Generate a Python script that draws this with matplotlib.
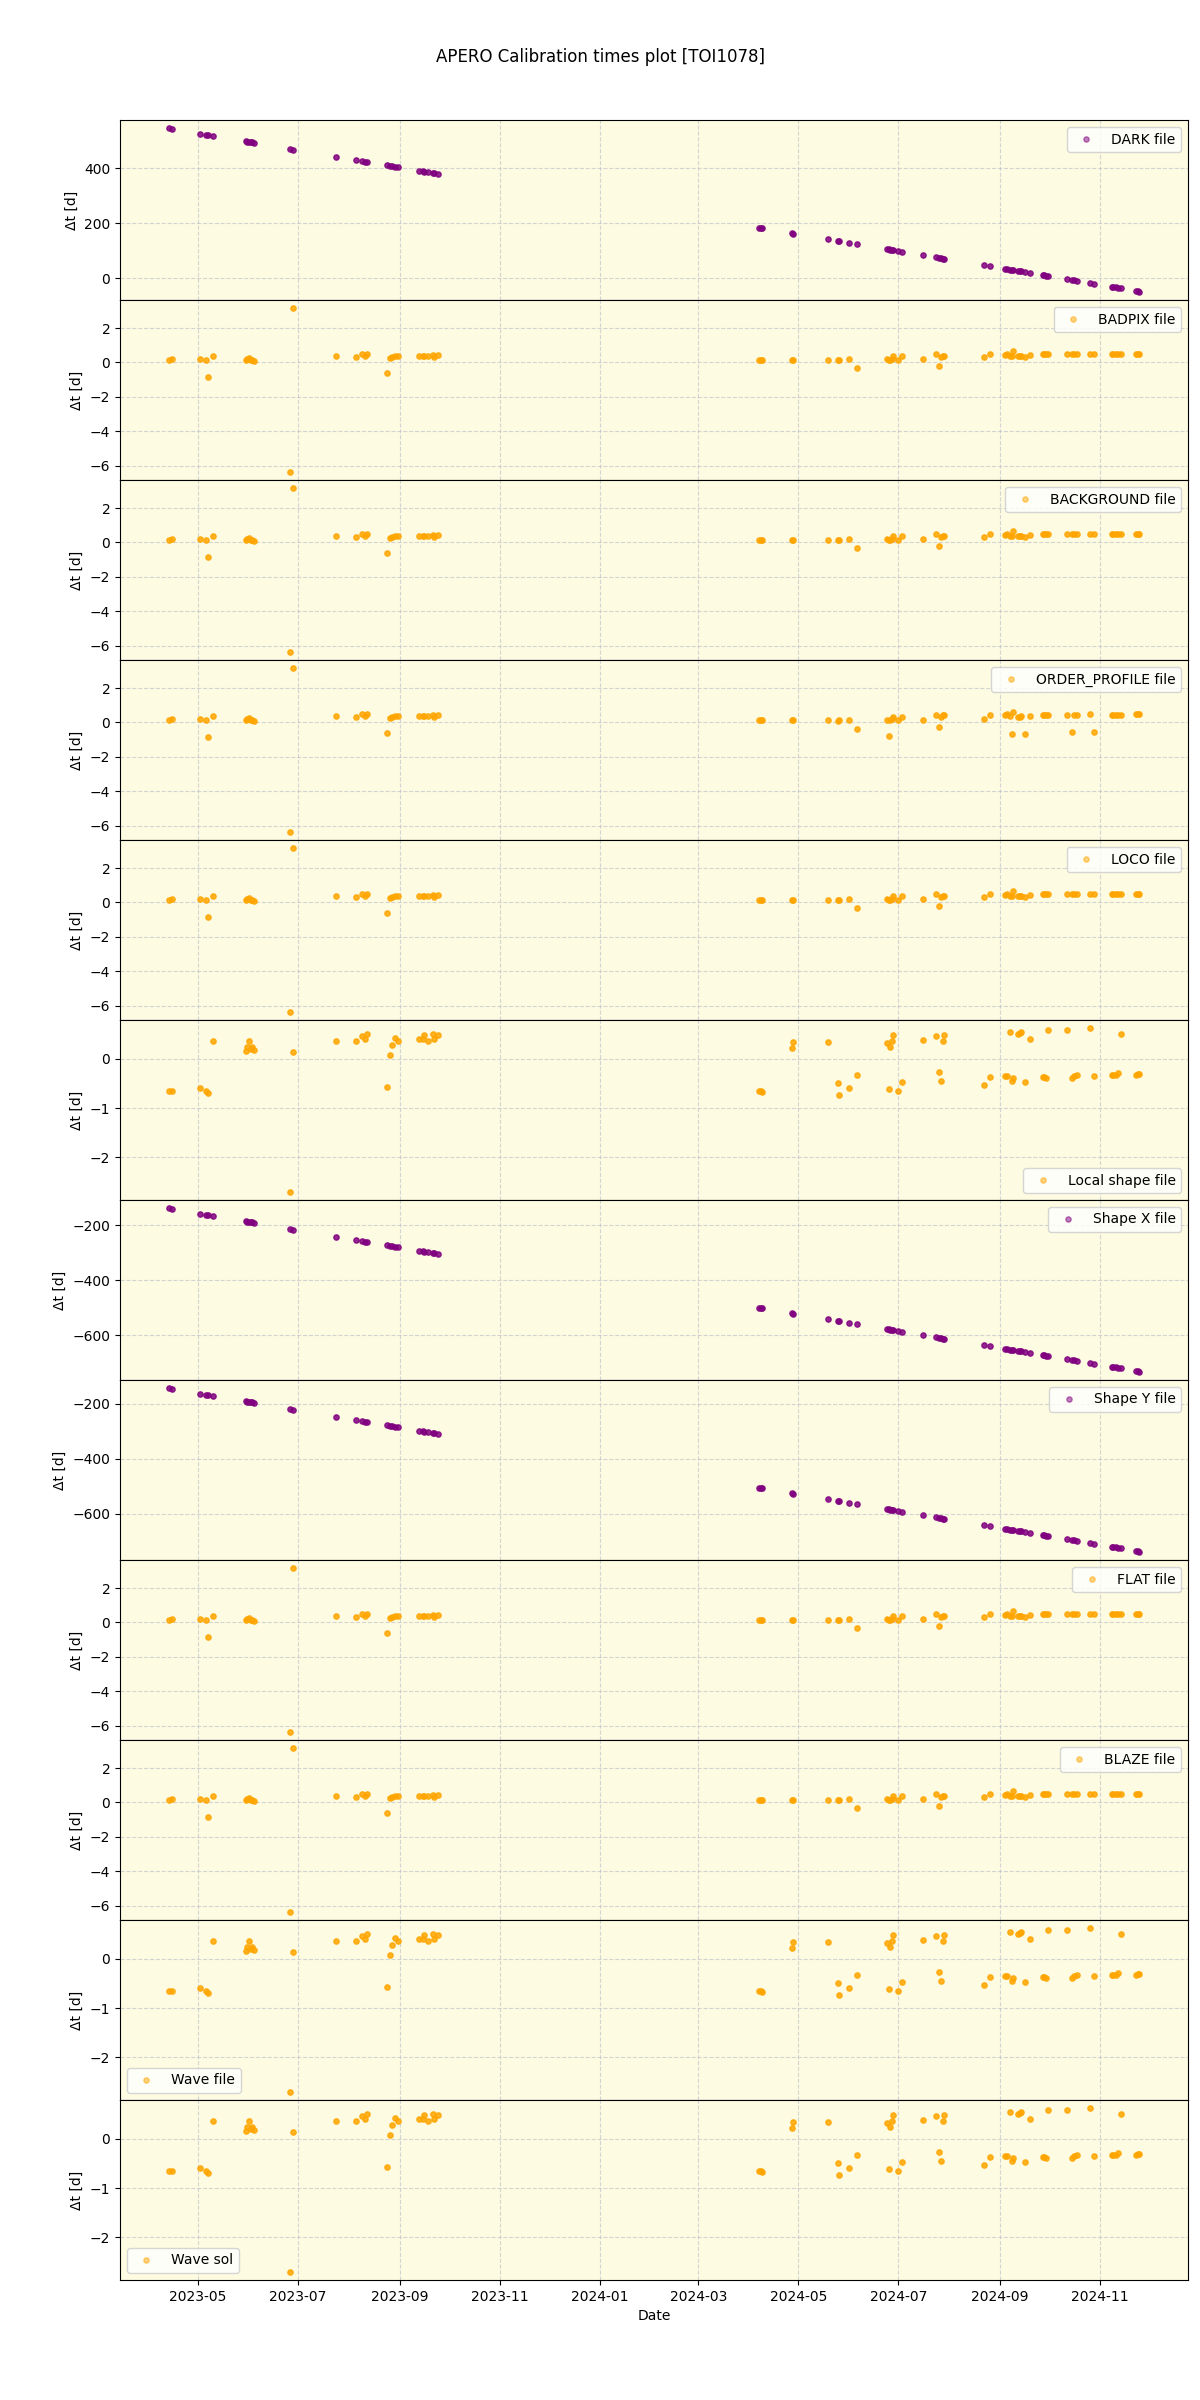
import numpy as np
import pandas as pd
import matplotlib
matplotlib.use('Agg')
import matplotlib.pyplot as plt

# observation nights (shared by all panels)
obs_dates = [
    # 2023
    '2023-04-13', '2023-04-15', '2023-05-02', '2023-05-06', '2023-05-07', '2023-05-10',
    '2023-05-30', '2023-05-31', '2023-06-01', '2023-06-02', '2023-06-03', '2023-06-04',
    '2023-06-26', '2023-06-28', '2023-07-24',
    '2023-08-05', '2023-08-09', '2023-08-11', '2023-08-12',
    '2023-08-24', '2023-08-26', '2023-08-27', '2023-08-29', '2023-08-31',
    '2023-09-13', '2023-09-15', '2023-09-16', '2023-09-18', '2023-09-21', '2023-09-22', '2023-09-24',
    # 2024
    '2024-04-07', '2024-04-08', '2024-04-09', '2024-04-27', '2024-04-28', '2024-05-19',
    '2024-05-25', '2024-05-26', '2024-06-01', '2024-06-06',
    '2024-06-24', '2024-06-25', '2024-06-26', '2024-06-27', '2024-06-28', '2024-07-01', '2024-07-03',
    '2024-07-16', '2024-07-24', '2024-07-26', '2024-07-27', '2024-07-28', '2024-07-29',
    '2024-08-22', '2024-08-26',
    '2024-09-04', '2024-09-05', '2024-09-07', '2024-09-08', '2024-09-09', '2024-09-12',
    '2024-09-13', '2024-09-14', '2024-09-16', '2024-09-19',
    '2024-09-27', '2024-09-28', '2024-09-29', '2024-09-30',
    '2024-10-12', '2024-10-15', '2024-10-16', '2024-10-18', '2024-10-26', '2024-10-28',
    '2024-11-08', '2024-11-09', '2024-11-11', '2024-11-12', '2024-11-14',
    '2024-11-23', '2024-11-24', '2024-11-25',
]

dark_dt = [
    545, 542, 524, 520, 519, 516, 497, 496, 495, 494, 493, 491, 469, 467, 440,
    429, 425, 423, 422, 411, 408, 407, 405, 404, 390, 389, 387, 385, 382, 381, 378,
    183, 182, 181, 163, 162, 141, 135, 134, 128, 123,
    105, 104, 103, 102, 101, 98, 96, 83, 75, 73, 72, 71, 70, 47, 43,
    34, 33, 31, 30, 29, 26, 25, 24, 22, 19, 11, 10, 9, 8,
    -4, -7, -8, -10, -18, -20, -31, -32, -34, -35, -37, -46, -47, -50,
]

badpix_dt = [
    0.17, 0.23, 0.23, 0.15, -0.85, 0.35, 0.15, 0.22, 0.28, 0.12, 0.15, 0.10,
    -6.34, 3.15, 0.35, 0.29, 0.47, 0.38, 0.47, -0.62, 0.25, 0.31, 0.38, 0.35,
    0.37, 0.37, 0.40, 0.35, 0.45, 0.33, 0.45,
    0.17, 0.15, 0.13, 0.15, 0.15, 0.17, 0.13, 0.17, 0.23, -0.33,
    0.23, 0.15, 0.15, 0.20, 0.35, 0.17, 0.35, 0.23, 0.47, -0.23, 0.33, 0.38, 0.38,
    0.29, 0.47, 0.41, 0.52, 0.38, 0.38, 0.64, 0.38, 0.35, 0.35, 0.33, 0.41,
    0.47, 0.47, 0.47, 0.47, 0.47, 0.47, 0.47, 0.47, 0.52, 0.52,
    0.47, 0.47, 0.50, 0.52, 0.52, 0.52, 0.52, 0.52,
]

order_profile_dt = [
    0.17, 0.23, 0.23, 0.15, -0.85, 0.35, 0.15, 0.22, 0.28, 0.12, 0.15, 0.10,
    -6.34, 3.15, 0.35, 0.29, 0.47, 0.38, 0.47, -0.62, 0.25, 0.31, 0.38, 0.35,
    0.37, 0.37, 0.40, 0.35, 0.45, 0.33, 0.45,
    0.12, 0.12, 0.12, 0.12, 0.12, 0.12, 0.10, 0.14, 0.17, -0.39,
    0.12, -0.81, 0.12, 0.20, 0.29, 0.12, 0.29, 0.17, 0.41, -0.29, 0.31, 0.41, 0.41,
    0.23, 0.41, 0.41, 0.48, 0.35, -0.64, 0.58, 0.31, 0.33, 0.35, -0.64, 0.35,
    0.41, 0.41, 0.41, 0.41, 0.41, -0.58, 0.41, 0.41, 0.48, -0.55,
    0.44, 0.45, 0.46, 0.46, 0.46, 0.47, 0.47, 0.47,
]

local_shape_dt = [
    -0.65, -0.65, -0.59, -0.65, -0.69, 0.36, 0.15, 0.24, 0.35, 0.20, 0.24, 0.18,
    -2.70, 0.13, 0.37, 0.35, 0.47, 0.40, 0.50, -0.57, 0.08, 0.28, 0.42, 0.37,
    0.41, 0.41, 0.49, 0.37, 0.51, 0.41, 0.49,
    -0.65, -0.65, -0.67, 0.22, 0.33, 0.33, -0.49, -0.73, -0.59, -0.33,
    0.31, -0.62, 0.24, 0.35, 0.48, -0.65, -0.48, 0.38, 0.47, -0.27, -0.46, 0.37, 0.49,
    -0.54, -0.38, -0.36, -0.36, 0.54, -0.45, -0.39, 0.50, 0.52, 0.54, -0.48, 0.41,
    -0.38, -0.37, -0.40, 0.58, 0.59, -0.40, -0.36, -0.34, 0.62, -0.35,
    -0.34, -0.33, -0.32, -0.29, 0.50, -0.32, -0.31, -0.31,
]

shape_x_dt = [
    -138, -141, -159, -163, -164, -167, -186, -187, -188, -189, -190, -192, -214, -216, -243,
    -254, -258, -260, -261, -272, -275, -276, -278, -279, -293, -294, -296, -298, -301, -302, -305,
    -500, -501, -502, -520, -521, -542, -548, -549, -555, -560,
    -578, -579, -580, -581, -582, -585, -587, -600, -608, -610, -611, -612, -613, -636, -640,
    -649, -650, -652, -653, -654, -657, -658, -659, -661, -664, -672, -673, -674, -675,
    -687, -690, -691, -693, -701, -703, -714, -715, -717, -718, -720, -729, -730, -733,
]

shape_y_dt = [
    -143, -146, -164, -168, -169, -172, -191, -192, -193, -194, -195, -197, -219, -221, -248,
    -259, -263, -265, -266, -277, -280, -281, -283, -284, -298, -299, -301, -303, -306, -307, -310,
    -505, -506, -507, -525, -526, -547, -553, -554, -560, -565,
    -583, -584, -585, -586, -587, -590, -592, -605, -613, -615, -616, -617, -618, -641, -645,
    -654, -655, -657, -658, -659, -662, -663, -664, -666, -669, -677, -678, -679, -680,
    -692, -695, -696, -698, -706, -708, -719, -720, -722, -723, -725, -734, -735, -738,
]

panel_labels = ['DARK file', 'BADPIX file', 'BACKGROUND file', 'ORDER_PROFILE file',
                'LOCO file', 'Local shape file', 'Shape X file', 'Shape Y file',
                'FLAT file', 'BLAZE file', 'Wave file', 'Wave sol']
panel_values = [dark_dt, badpix_dt, badpix_dt, order_profile_dt,
                badpix_dt, local_shape_dt, shape_x_dt, shape_y_dt,
                badpix_dt, badpix_dt, local_shape_dt, local_shape_dt]
panel_colors = ['purple', 'orange', 'orange', 'orange', 'orange', 'orange',
                'purple', 'purple', 'orange', 'orange', 'orange', 'orange']
legend_locs = ['upper right', 'upper right', 'upper right', 'upper right',
               'upper right', 'lower right', 'upper right', 'upper right',
               'upper right', 'upper right', 'lower left', 'lower left']

dates = pd.to_datetime(obs_dates)

fig, axs = plt.subplots(12, 1, figsize=(12, 24), sharex=True)
fig.subplots_adjust(left=0.1, right=0.99, top=0.95, bottom=0.05, hspace=0)

for ax, lab, vals, col, loc in zip(axs, panel_labels, panel_values, panel_colors, legend_locs):
    ax.set_facecolor('#fdfbe1')
    ax.plot(dates, vals, 'o', color=col, ms=3.8, alpha=0.85, label=lab)
    ax.set_ylabel('\u0394t [d]')
    ax.grid(True, linestyle='--', color='#b8bcc8', alpha=0.6)
    leg = ax.legend(loc=loc)
    for h in leg.legend_handles:
        h.set_alpha(0.5)

axs[-1].set_xlabel('Date')
fig.suptitle('APERO Calibration times plot [TOI1078]')

fig.savefig('out.png', dpi=100)
